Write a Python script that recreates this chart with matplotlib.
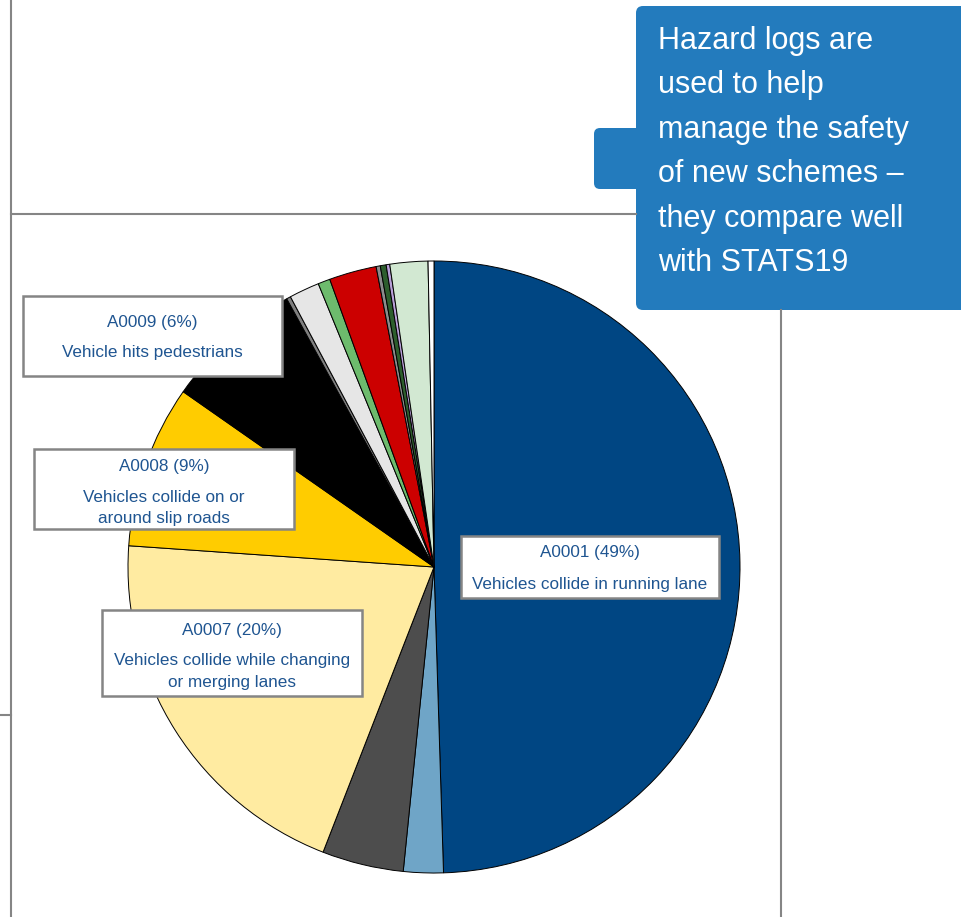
import matplotlib
matplotlib.use("Agg")
from matplotlib import pyplot as plt
from matplotlib.patches import Rectangle, FancyBboxPatch

plt.rcParams['font.family'] = ['Liberation Sans', 'DejaVu Sans']

#######################################
# Data (share of hazards, clockwise from 12 o'clock)
#######################################

shares = [49.5, 2.1, 4.3, 20.2, 8.6, 7.3, 0.22, 1.6, 0.64, 2.5,
          0.22, 0.31, 0.19, 2.0, 0.31]
colours = ['#004683', '#6FA5C7', '#4D4D4D', '#FFEBA1', '#FFCC00',
           '#000000', '#808080', '#E6E6E6', '#6DBB6D', '#CC0000',
           '#8C8C8C', '#2D5E2D', '#B9A0D8', '#D2E8D2', '#FFFFFF']

# labelled hazards
codes = ['A0009', 'A0008', 'A0001', 'A0007']
pcts = [6, 9, 49, 20]
descs = ['Vehicle hits pedestrians',
         'Vehicles collide on or\naround slip roads',
         'Vehicles collide in running lane',
         'Vehicles collide while changing\nor merging lanes']

callout_lines = ['Hazard logs are', 'used to help', 'manage the safety',
                 'of new schemes \u2013', 'they compare well', 'with STATS19']

#######################################
# Figure
#######################################

W, H = 961, 917
fig = plt.figure(figsize=(W / 100, H / 100), dpi=100)

# pie: centre (434, 567) px, radius 306 px
cx, cy, r = 434, 567, 306
ax = fig.add_axes([(cx - r) / W, (H - cy - r) / H, 2 * r / W, 2 * r / H])
ax.pie(shares, colors=colours, startangle=90, counterclock=False,
       wedgeprops=dict(edgecolor='black', linewidth=0.7))
ax.set_xlim(-1, 1)
ax.set_ylim(-1, 1)
ax.set_aspect('auto')
ax.set_zorder(1)

# overlay in pixel coordinates
ov = fig.add_axes([0, 0, 1, 1])
ov.set_xlim(0, W)
ov.set_ylim(H, 0)
ov.axis('off')
ov.patch.set_alpha(0)
ov.set_zorder(2)

grey = '#858585'
ov.plot([11, 11], [0, 917], color=grey, lw=1.5)
ov.plot([0, 11], [715, 715], color=grey, lw=1.5)
ov.plot([11, 636], [214, 214], color=grey, lw=1.5)
ov.plot([781, 781], [310, 917], color=grey, lw=1.5)

# label boxes
boxes = [(23, 296, 259, 80), (34, 449, 260, 80),
         (461, 536, 258, 62), (102, 610, 260, 86)]
txt_col = '#1F5591'
for (x, y, w, h), code, p, d in zip(boxes, codes, pcts, descs):
    ov.add_patch(Rectangle((x, y), w, h, facecolor='white',
                           edgecolor=grey, lw=1.8))
    nlines = d.count('\n') + 1
    block = 31 + 21 * (nlines - 1)
    top = y + h / 2 - block / 2 + (3 if nlines > 1 else 1.5)
    ov.text(x + w / 2, top, '{} ({}%)'.format(code, p),
            ha='center', va='center', fontsize=12.3, color=txt_col)
    for j, dl in enumerate(d.split('\n')):
        ov.text(x + w / 2, top + 31 + 21 * j, dl, ha='center',
                va='center', fontsize=12.3, color=txt_col)

# callout
blue = '#237BBD'
ov.add_patch(FancyBboxPatch((636, 6), 340, 304,
                            boxstyle='round,pad=0,rounding_size=7',
                            facecolor=blue, edgecolor='none'))
ov.add_patch(FancyBboxPatch((594, 128), 60, 61,
                            boxstyle='round,pad=0,rounding_size=6',
                            facecolor=blue, edgecolor='none'))
for i, line in enumerate(callout_lines):
    ov.text(658, 49 + i * 44.4, line, ha='left', va='baseline',
            fontsize=22, color='white')

plt.savefig('out.png', dpi=100)
